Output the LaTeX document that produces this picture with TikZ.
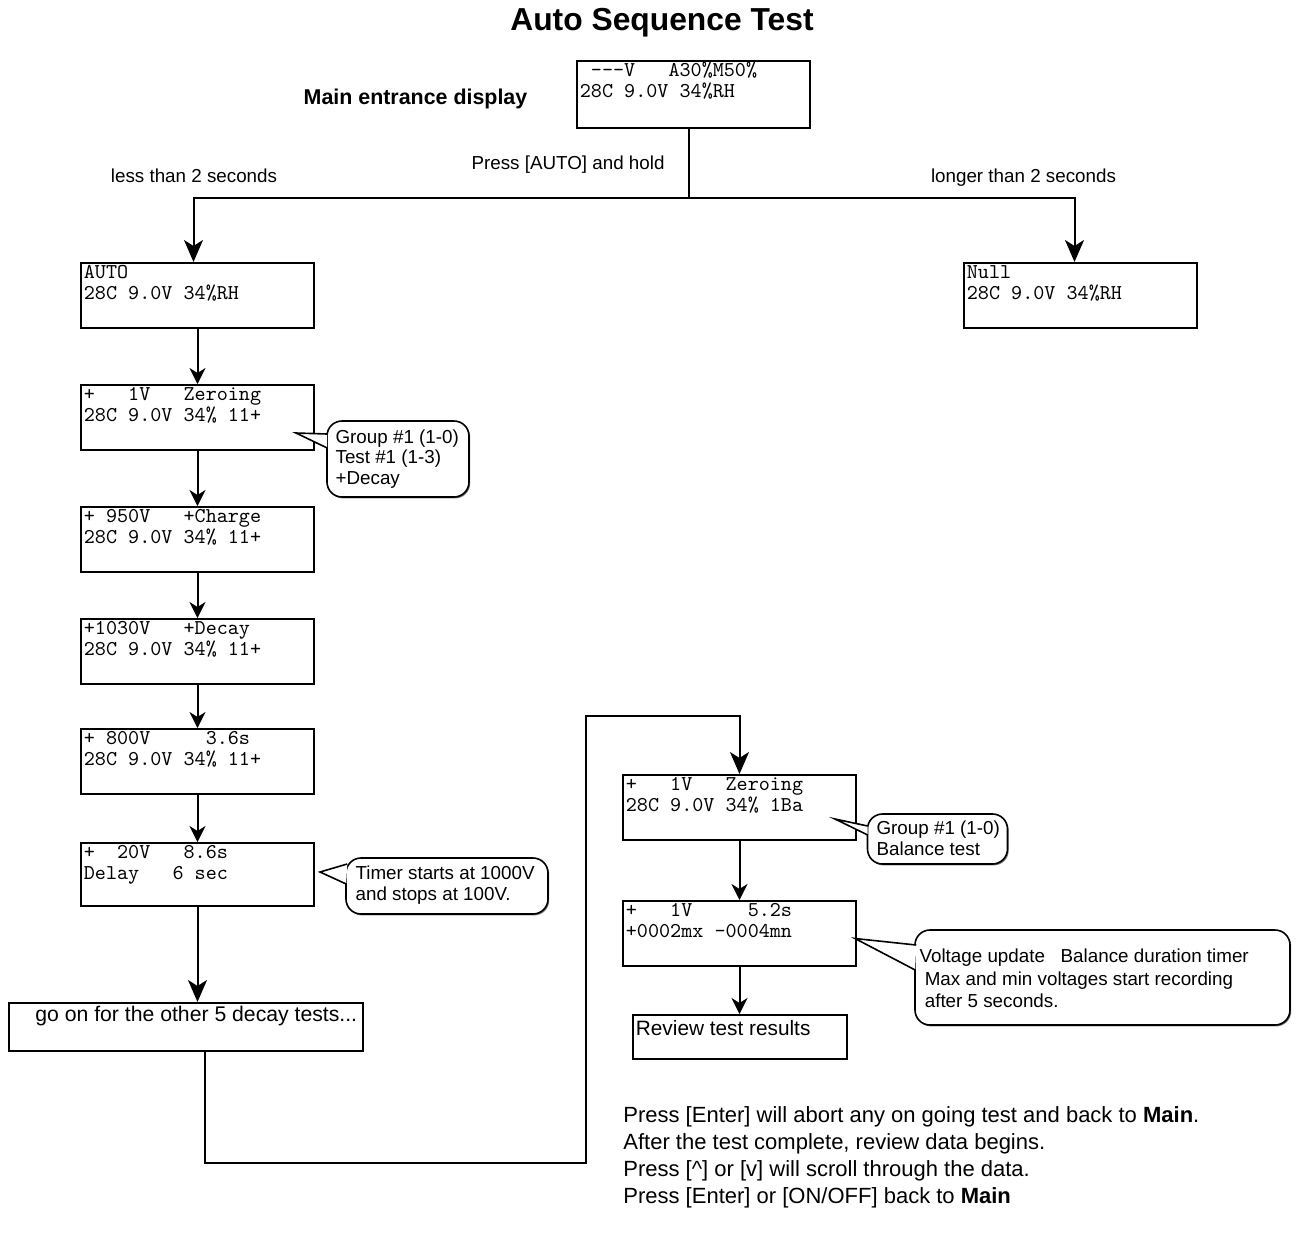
\documentclass[tikz,border=0pt]{standalone}
\usepackage{fontspec}
\setmainfont{Liberation Sans}
\usepackage{tikz}
\usetikzlibrary{positioning, arrows.meta, calc, shadows}
\tikzset{
    lcd/.style={draw, line width=1pt, minimum width=116.5pt, minimum height=32.5pt, inner sep=0pt},
    lcd text/.style={anchor=north west, inner sep=0pt, align=left, font=\ttfamily\fontsize{10.55}{10.5}\selectfont},
    plain box/.style={draw, line width=1pt, inner sep=0pt},
    note/.style={draw, line width=0.8pt, rounded corners=7.5pt, fill=white, inner sep=0pt,
        drop shadow={shadow xshift=0.6pt, shadow yshift=-0.7pt, fill=black!55, opacity=1}},
    note text/.style={anchor=west, inner sep=0pt, align=left, font=\fontsize{9.4}{10.4}\selectfont},
    pointer/.style={draw, line width=0.8pt, fill=white},
    line/.style={line width=1pt},
    step_arrow/.style={line, -{Stealth[length=8pt, width=8pt, inset=2.5pt]}},
    branch_arrow/.style={line, -{Stealth[length=11pt, width=9.5pt, inset=3pt]}},
    label style/.style={font=\fontsize{9.4}{11}\selectfont, anchor=base}
}

\begin{document}
\begin{tikzpicture}[x=0.5pt, y=-0.5pt]
    \useasboundingbox (0,0) rectangle (1297,1238);

    % --- Title and labels ---
    \node (title) [anchor=base, font=\bfseries\fontsize{15.9}{19}\selectfont] at (662,30) {Auto Sequence Test};
    \node (entry) [anchor=base, font=\bfseries\fontsize{10.7}{13}\selectfont] at (415.5,104) {Main entrance display};
    \node (press) [label style] at (568,169.5) {Press [AUTO] and hold};
    \node (short) [label style] at (194,182.5) {less than 2 seconds};
    \node (long) [label style] at (1023.5,182.5) {longer than 2 seconds};

    % --- Displays ---
    \node (main) [lcd, minimum height=33.5pt, anchor=north west] at (576,60) {};
    \node (mainT) [lcd text] at ($(main.north west)+(3.5,1.8)$) {\strut~-{}-{}-V~~~A30\%M50\%\\28C 9.0V 34\%RH};
    \node (autodisp) [lcd, anchor=north west] at (80,262) {};
    \node (autoT) [lcd text] at ($(autodisp.north west)+(3.5,1.8)$) {\strut AUTO\\28C 9.0V 34\%RH};
    \node (nulldisp) [lcd, anchor=north west] at (963,262) {};
    \node (nullT) [lcd text] at ($(nulldisp.north west)+(3.5,1.8)$) {\strut Null\\28C 9.0V 34\%RH};

    \node (zero) [lcd, below=27.5pt of autodisp] {};
    \node (zeroT) [lcd text] at ($(zero.north west)+(3.5,1.8)$) {\strut+~~~1V~~~Zeroing\\28C 9.0V 34\% 11+};
    \node (charge) [lcd, below=27.5pt of zero] {};
    \node (chargeT) [lcd text] at ($(charge.north west)+(3.5,1.8)$) {\strut+ 950V~~~+Charge\\28C 9.0V 34\% 11+};
    \node (decay) [lcd, below=22.5pt of charge] {};
    \node (decayT) [lcd text] at ($(decay.north west)+(3.5,1.8)$) {\strut+1030V~~~+Decay\\28C 9.0V 34\% 11+};
    \node (hold) [lcd, below=21.5pt of decay] {};
    \node (holdT) [lcd text] at ($(hold.north west)+(3.5,1.8)$) {\strut+ 800V~~~~~3.6s\\28C 9.0V 34\% 11+};
    \node (delay) [lcd, minimum height=31.5pt, below=23.5pt of hold] {};
    \node (delayT) [lcd text] at ($(delay.north west)+(3.5,1.8)$) {\strut+~~20V~~~8.6s\\Delay~~~6 sec};

    \node (goon) [plain box, minimum width=177pt, minimum height=24pt, anchor=north west] at (8,1002) {};
    \node (goonT) [anchor=north west, inner sep=0pt, font=\fontsize{10.6}{12.7}\selectfont] at ($(goon.north west)+(27,1.7)$) {\strut go on for the other 5 decay tests...};

    \node (bzero) [lcd, anchor=north west] at (622,774) {};
    \node (bzeroT) [lcd text] at ($(bzero.north west)+(3.5,1.8)$) {\strut+~~~1V~~~Zeroing\\28C 9.0V 34\% 1Ba};
    \node (btimer) [lcd, below=29.5pt of bzero] {};
    \node (btimerT) [lcd text] at ($(btimer.north west)+(3.5,1.8)$) {\strut+~~~1V~~~~~5.2s\\+0002mx -0004mn};
    \node (review) [plain box, minimum width=107pt, minimum height=22pt, below=23.5pt of btimer] {};
    \node (reviewT) [anchor=north west, inner sep=0pt, font=\fontsize{10.4}{12.6}\selectfont] at ($(review.north west)+(4,3.4)$) {\strut Review test results};

    % --- Connections ---
    \draw[line] ([xshift=-2.5pt]main.south) -- ++(0,69) coordinate (split);
    \draw[branch_arrow] (split) -| ([xshift=-2pt]autodisp.north);
    \draw[branch_arrow] (split) -| ([xshift=-3pt]nulldisp.north);
    \draw[step_arrow] (autodisp) -- (zero);
    \draw[step_arrow] (zero) -- (charge);
    \draw[step_arrow] (charge) -- (decay);
    \draw[step_arrow] (decay) -- (hold);
    \draw[step_arrow] (hold) -- (delay);
    \draw[branch_arrow] (delay.south) -- (delay.south |- goon.north);
    \draw[branch_arrow] ($(goon.south)+(19,0)$) -- ++(0,111) -| ++(381,-447) -| (bzero.north);
    \draw[step_arrow] (bzero) -- (btimer);
    \draw[step_arrow] (btimer) -- (review);

    % --- Callouts ---
    \node (noteA) [note, minimum width=71pt, minimum height=38pt] at (398,459) {};
    \node (noteAT) [note text] at ($(noteA.west)+(9,0)$) {Group \#1 (1-0)\\Test \#1 (1-3)\\+Decay};
    \coordinate (tipA) at ($(zero.east)+(-19,15.5)$);
    \filldraw[pointer] ($(noteA.west)+(1,-25)$) -- (tipA) -- ($(noteA.west)+(1,-11)$);

    \node (noteB) [note, minimum width=101pt, minimum height=28pt] at (447,886) {};
    \node (noteBT) [note text] at ($(noteB.west)+(10,-1)$) {Timer starts at 1000V\\and stops at 100V.};
    \coordinate (tipB) at ($(delay.east)+(5,-2.5)$);
    \filldraw[pointer] ($(noteB.west)+(2,-22)$) -- (tipB) -- ($(noteB.west)+(1,-2)$);

    \node (noteC) [note, minimum width=70pt, minimum height=25pt] at (937.5,839) {};
    \node (noteCT) [note text] at ($(noteC.west)+(9.5,-1)$) {Group \#1 (1-0)\\Balance test};
    \coordinate (tipC) at ($(bzero.east)+(-22,11.5)$);
    \filldraw[pointer] ($(noteC.west)+(1,-13)$) -- (tipC) -- ($(noteC.west)+(1,-4)$);

    \node (noteD) [note, minimum width=187.5pt, minimum height=47.5pt] at (1102.5,977.5) {};
    \node (noteDT) [note text, font=\fontsize{9.4}{11.2}\selectfont] at ($(noteD.west)+(5,1)$)
        {Voltage update~~~Balance duration timer\\\mbox{}~Max and min voltages start recording\\\mbox{}~after 5 seconds.};
    \coordinate (tipD) at ($(btimer.east)+(-2,5)$);
    \filldraw[pointer] ($(noteD.west)+(2,-32.5)$) -- (tipD) -- ($(noteD.west)+(1,-7.5)$);

    % --- Notes at the bottom ---
    \node (help) [anchor=north west, inner sep=0pt, align=left, font=\fontsize{11}{13.5}\selectfont] at (623,1103)
        {\strut Press [Enter] will abort any on going test and back to \textbf{Main}.\\
         After the test complete, review data begins.\\
         Press [\textasciicircum] or [v] will scroll through the data.\\
         Press [Enter] or [ON/OFF] back to \textbf{Main}};
\end{tikzpicture}
\end{document}
